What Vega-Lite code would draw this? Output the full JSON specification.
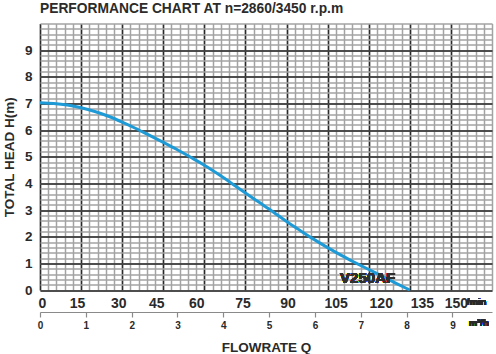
{
  "$schema": "https://vega.github.io/schema/vega-lite/v6.json",
  "width": 452,
  "height": 266.5,
  "autosize": "none",
  "padding": {"left": 40, "top": 23.5, "right": 4, "bottom": 64},
  "background": "white",
  "config": {"view": {"stroke": null}, "font": "Liberation Sans"},
  "title": {"text": "PERFORMANCE CHART AT n=2860/3450 r.p.m", "anchor": "start", "frame": "group", "offset": 8, "fontSize": 13.8, "fontWeight": "bold", "color": "#2b2b2b", "font": "Liberation Sans"},
  "data": {"values": [
    {"Q": 0, "H": 7.03}, {"Q": 5, "H": 7.0}, {"Q": 10, "H": 6.94}, {"Q": 15, "H": 6.84},
    {"Q": 20, "H": 6.7}, {"Q": 25, "H": 6.52}, {"Q": 30, "H": 6.3}, {"Q": 35, "H": 6.06},
    {"Q": 40, "H": 5.8}, {"Q": 45, "H": 5.54}, {"Q": 50, "H": 5.27}, {"Q": 55, "H": 4.98},
    {"Q": 60, "H": 4.68}, {"Q": 65, "H": 4.35}, {"Q": 70, "H": 4.0}, {"Q": 75, "H": 3.64},
    {"Q": 80, "H": 3.29}, {"Q": 85, "H": 2.94}, {"Q": 90, "H": 2.57}, {"Q": 95, "H": 2.23},
    {"Q": 100, "H": 1.9}, {"Q": 105, "H": 1.59}, {"Q": 110, "H": 1.3}, {"Q": 115, "H": 1.03},
    {"Q": 120, "H": 0.77}, {"Q": 125, "H": 0.51}, {"Q": 130, "H": 0.25}, {"Q": 135, "H": 0.0}
  ]},
  "layer": [
    {
      "mark": {"type": "line", "strokeOpacity": 0},
      "encoding": {
        "x": {"field": "Q", "type": "quantitative", "scale": {"domain": [0, 165], "nice": false, "zero": false},
          "axis": {"orient": "bottom", "values": [0,3,6,9,12,15,18,21,24,27,30,33,36,39,42,45,48,51,54,57,60,63,66,69,72,75,78,81,84,87,90,93,96,99,102,105,108,111,114,117,120,123,126,129,132,135,138,141,144,147,150,153,156,159,162,165],
            "grid": true, "gridColor": "#a3a3a3", "gridWidth": 1.5, "gridOpacity": 1, "labels": false, "ticks": false, "domain": false, "title": null}},
        "y": {"field": "H", "type": "quantitative", "scale": {"domain": [0, 10], "nice": false},
          "axis": {"orient": "left", "values": [0,0.2,0.4,0.6,0.8,1,1.2,1.4,1.6,1.8,2,2.2,2.4,2.6,2.8,3,3.2,3.4,3.6,3.8,4,4.2,4.4,4.6,4.8,5,5.2,5.4,5.6,5.8,6,6.2,6.4,6.6,6.8,7,7.2,7.4,7.6,7.8,8,8.2,8.4,8.6,8.8,9,9.2,9.4,9.6,9.8,10],
            "grid": true, "gridColor": "#a3a3a3", "gridWidth": 1.5, "gridOpacity": 1, "labels": false, "ticks": false, "domain": false, "title": null}}
      }
    },
    {
      "mark": {"type": "line", "color": "#1e9ad6", "strokeWidth": 3, "interpolate": "monotone"},
      "encoding": {
        "x": {"field": "Q", "type": "quantitative",
          "axis": {"orient": "bottom", "values": [0,15,30,45,60,75,90,105,120,135,150],
            "grid": true, "gridColor": "#2a2a2a", "gridWidth": 1.5, "gridOpacity": 1, "ticks": false, "domain": false, "title": null,
            "labelFont": "Liberation Sans", "labelFontSize": 14, "labelFontWeight": "bold", "labelColor": "#2a2a2a", "labelPadding": 6,
            "labelFlush": false, "labelOverlap": false,
            "labelOffset": {"condition": [
              {"test": "datum.value == 0", "value": 2},
              {"test": "datum.value == 15", "value": -4},
              {"test": "datum.value == 30", "value": -4},
              {"test": "datum.value == 45", "value": -7},
              {"test": "datum.value == 60", "value": -8},
              {"test": "datum.value == 75", "value": -3},
              {"test": "datum.value == 90", "value": 1},
              {"test": "datum.value == 105", "value": 8},
              {"test": "datum.value == 120", "value": 12},
              {"test": "datum.value == 135", "value": 12},
              {"test": "datum.value == 150", "value": 5}
            ], "value": 0}}},
        "y": {"field": "H", "type": "quantitative",
          "axis": {"orient": "left", "values": [0,1,2,3,4,5,6,7,8,9],
            "grid": true, "gridColor": "#2a2a2a", "gridWidth": 1.5, "gridOpacity": 1, "ticks": false, "domain": false,
            "labelFont": "Liberation Sans", "labelFontSize": 13.5, "labelFontWeight": "bold", "labelColor": "#2a2a2a", "labelPadding": 8,
            "labelFlush": false,
            "title": "TOTAL HEAD H(m)", "titleFont": "Liberation Sans", "titleFontSize": 13.5, "titleFontWeight": "bold", "titleColor": "#2a2a2a", "titlePadding": 8}}
      }
    },
    {
      "mark": {"type": "line", "strokeOpacity": 0},
      "encoding": {
        "x": {"field": "Q", "type": "quantitative",
          "axis": {"orient": "bottom", "offset": 22, "values": [0, 16.73, 33.46, 50.19, 66.92, 83.65, 100.38, 117.11, 133.84, 150.57],
            "labelExpr": "round(datum.value / 16.73)", "grid": false,
            "domain": true, "domainColor": "#8a8a8a", "domainWidth": 1.2, "ticks": true, "tickColor": "#8a8a8a", "tickSize": 5, "tickWidth": 1.2,
            "labelFont": "Liberation Sans", "labelFontSize": 10, "labelFontWeight": "bold", "labelColor": "#2a2a2a", "labelPadding": 3,
            "labelFlush": false, "labelOverlap": false,
            "title": "FLOWRATE Q", "titleFont": "Liberation Sans", "titleFontSize": 13.5, "titleFontWeight": "bold", "titleColor": "#2a2a2a", "titlePadding": 10}},
        "y": {"field": "H", "type": "quantitative", "axis": null}
      }
    },
    {
      "mark": {"type": "text", "text": "V250AF", "font": "Liberation Sans", "fontSize": 15, "fontWeight": "bold", "color": "#2f2f2f", "align": "center", "baseline": "middle"},
      "encoding": {
        "x": {"datum": 119.6, "type": "quantitative", "axis": null},
        "y": {"datum": 0.45, "type": "quantitative", "axis": null}
      }
    },
    {
      "mark": {"type": "text", "text": "/min", "font": "Liberation Sans", "fontSize": 9.5, "fontWeight": "bold", "letterSpacing": 1.2, "color": "#2a2a2a", "align": "left", "baseline": "middle", "clip": false},
      "encoding": {
        "x": {"datum": 155.8, "type": "quantitative", "axis": null},
        "y": {"datum": -0.45, "type": "quantitative", "axis": null}
      }
    },
    {
      "mark": {"type": "text", "text": "m³/h", "font": "Liberation Sans", "fontSize": 9.5, "fontWeight": "bold", "letterSpacing": 1.5, "color": "#2a2a2a", "align": "left", "baseline": "middle", "clip": false},
      "encoding": {
        "x": {"datum": 156.5, "type": "quantitative", "axis": null},
        "y": {"datum": -1.24, "type": "quantitative", "axis": null}
      }
    }
  ],
  "resolve": {"axis": {"x": "independent", "y": "independent"}}
}
